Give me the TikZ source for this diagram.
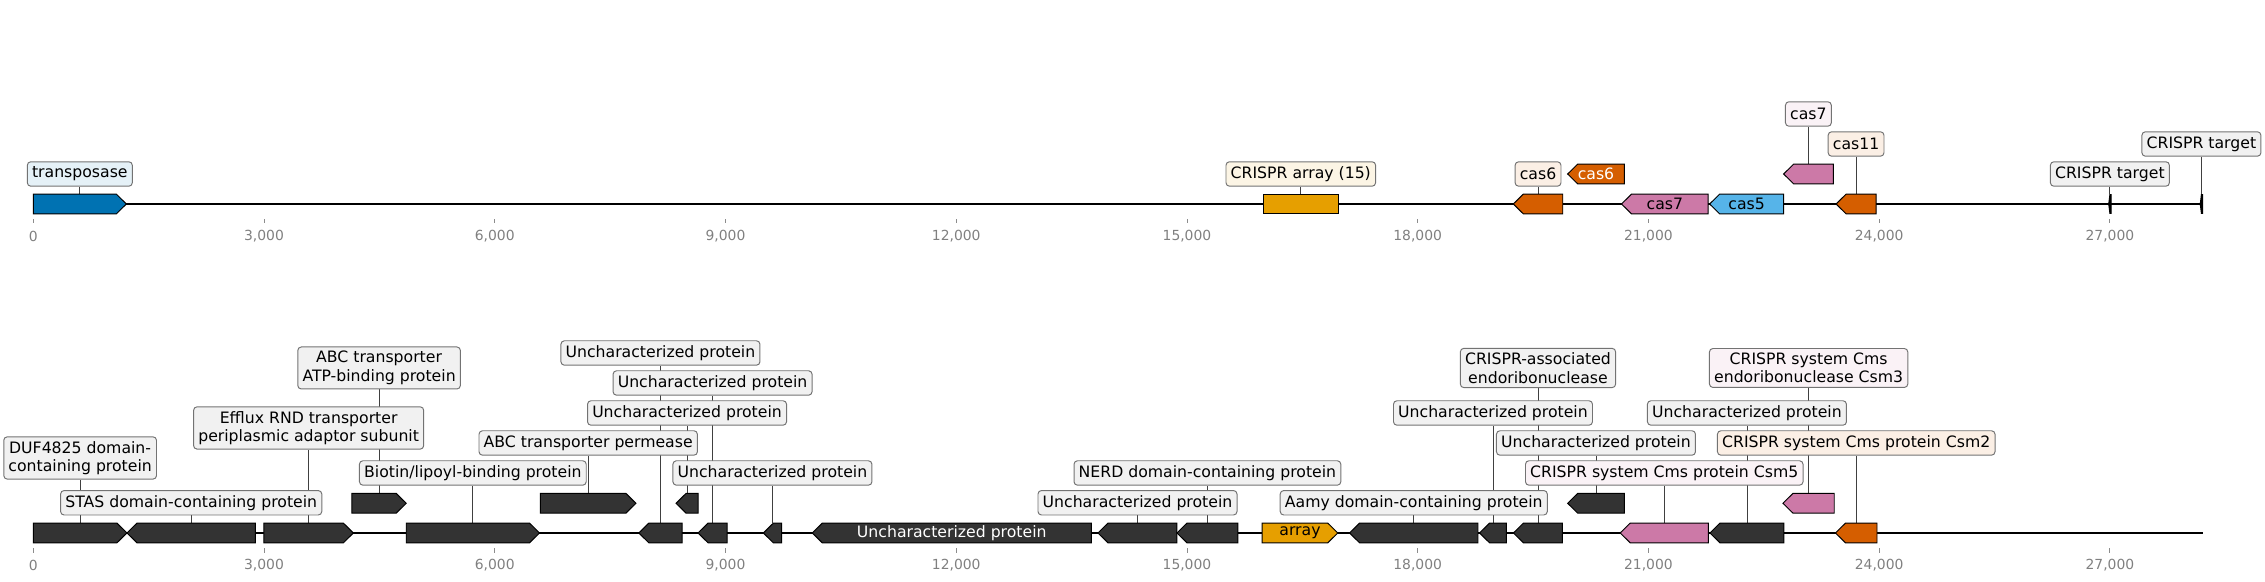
\documentclass[tikz,border=0pt]{standalone}
\usepackage{fontspec}
\setmainfont{DejaVu Sans}
\usepackage{tikz}

\pgfdeclarelayer{bg}
\pgfsetlayers{bg,main}

\definecolor{dblue}{HTML}{0072B2}
\definecolor{sky}{HTML}{56B4E9}
\definecolor{gold}{HTML}{E69F00}
\definecolor{verm}{HTML}{D55E00}
\definecolor{pinkc}{HTML}{CC79A7}
\definecolor{dgray}{HTML}{333333}

% gene arrows: name, start, end (kb), centre (px), fill, text
\newcommand{\geneR}[6]{%
  \draw[gene, fill=#5] (#2,#4-9.85) -- (#3-0.13,#4-9.85) -- (#3,#4) -- (#3-0.13,#4+9.85) -- (#2,#4+9.85) -- cycle;
  \coordinate (#1) at ({(#2+#3)/2},#4-9.85);
  \node[intext] (#1t) at ({(#2+#3)/2},#4) {#6};}
\newcommand{\geneL}[6]{%
  \draw[gene, fill=#5] (#3,#4-9.85) -- (#2+0.13,#4-9.85) -- (#2,#4) -- (#2+0.13,#4+9.85) -- (#3,#4+9.85) -- cycle;
  \coordinate (#1) at ({(#2+#3)/2},#4-9.85);
  \node[intext] (#1t) at ({(#2+#3)/2},#4) {#6};}

\begin{document}
\begin{tikzpicture}[x=55.38pt, y=-0.72pt,
  trk/.style={line width=1.6pt},
  gene/.style={draw=black, line width=0.7pt},
  lbl/.style={draw=black!55, line width=0.7pt, rounded corners=2.5pt, inner xsep=3.4pt, inner ysep=3.1pt,
    minimum height=17.6pt, align=center, font=\fontsize{11.3}{13.3}\selectfont},
  conn/.style={line width=0.6pt, black!75},
  intext/.style={inner sep=0pt, font=\fontsize{11.3}{13.3}\selectfont},
  tickmk/.style={black!45, line width=0.6pt},
  ticklab/.style={inner sep=0pt, text=black!50, font=\fontsize{10}{11}\selectfont}]
\useasboundingbox (-0.433,0) rectangle (29.017,582);

% axes
\coordinate (ta) at (0,204);
\coordinate (tb) at (28.21,204);
\coordinate (ba) at (0,533);
\coordinate (bb) at (28.21,533);
\draw[trk] (ta) -- (tb);
\draw[trk] (ba) -- (bb);
\foreach \k/\lab in {0/0,3/{3,000},6/{6,000},9/{9,000},12/{12,000},15/{15,000},18/{18,000},21/{21,000},24/{24,000},27/{27,000}} {
  \draw[tickmk] (\k,219.2) -- (\k,223.4);
  \node[ticklab] (tt\k) at (\k,236) {\lab};
  \draw[tickmk] (\k,548.5) -- (\k,552.7);
  \node[ticklab] (bt\k) at (\k,565) {\lab};
}

% top track
\geneR{tp}{0}{1.21}{204}{dblue}{}
\draw[gene, fill=gold] (15.99,194.15) rectangle (16.97,213.85);
\coordinate (ar) at (16.48,194.15);
\geneL{c6a}{19.243}{19.886}{204}{verm}{}
\geneL{c6b}{19.95}{20.686}{174}{verm}{\textcolor{white}{cas6}}
\geneL{c7a}{20.65}{21.777}{204}{pinkc}{cas7}
\geneL{c5}{21.796}{22.758}{204}{sky}{cas5}
\geneL{c7b}{22.758}{23.405}{174}{pinkc}{}
\geneL{c11}{23.44}{23.96}{204}{verm}{}
\draw[gene, fill=black] (27.015,194.5) -- (27.015,213.5) -- (27.0,213.5) -- (26.985,204) -- (27.0,194.5) -- cycle;
\coordinate (tg1) at (27.0,194.5);
\draw[gene, fill=black] (28.205,194.5) -- (28.205,213.5) -- (28.19,213.5) -- (28.175,204) -- (28.19,194.5) -- cycle;
\coordinate (tg2) at (28.19,194.5);

\node[lbl, fill=dblue!10] (ltp) at (0.605,174) {transposase};
\node[lbl, fill=gold!10] (lar) at (16.48,174) {CRISPR array (15)};
\node[lbl, fill=verm!10] (lc6) at (19.565,174) {cas6};
\node[lbl, fill=pinkc!10] (lc7) at (23.08,114) {cas7};
\node[lbl, fill=verm!10] (lc11) at (23.70,144) {cas11};
\node[lbl, fill=dgray!7] (ltg1) at (27.0,174) {CRISPR target};
\node[lbl, fill=dgray!7] (ltg2) at (28.19,144) {CRISPR target};

% bottom track
\geneR{g1}{0}{1.218}{533}{dgray}{}
\geneL{g2}{1.218}{2.888}{533}{dgray}{}
\geneR{g3}{2.999}{4.162}{533}{dgray}{}
\geneR{g4}{4.143}{4.849}{503.3}{dgray}{}
\geneR{g5}{4.849}{6.582}{533}{dgray}{}
\geneR{g6}{6.593}{7.836}{503.3}{dgray}{}
\geneL{g7}{7.873}{8.435}{533}{dgray}{}
\geneL{g8}{8.357}{8.643}{503.3}{dgray}{}
\geneL{g9}{8.643}{9.02}{533}{dgray}{}
\geneL{g10}{9.492}{9.729}{533}{dgray}{}
\geneL{g11}{10.128}{13.756}{533}{dgray}{\textcolor{white}{Uncharacterized protein}}
\geneL{g12}{13.843}{14.87}{533}{dgray}{}
\geneL{g13}{14.87}{15.661}{533}{dgray}{}
\geneR{g14}{15.978}{16.961}{533}{gold}{array}
\geneL{g15}{17.114}{18.784}{533}{dgray}{}
\geneL{g16}{18.804}{19.154}{533}{dgray}{}
\geneL{g17}{19.245}{19.882}{533}{dgray}{}
\geneL{g18}{19.95}{20.686}{503.3}{dgray}{}
\geneL{g19}{20.633}{21.779}{533}{pinkc}{}
\geneL{g20}{21.8}{22.762}{533}{dgray}{}
\geneL{g21}{22.749}{23.416}{503.3}{pinkc}{}
\geneL{g22}{23.432}{23.972}{533}{verm}{}

\node[lbl, fill=dgray!7] (l1) at (0.609,458) {DUF4825 domain-\\containing protein};
\node[lbl, fill=dgray!7] (l2) at (2.053,502.8) {STAS domain-containing protein};
\node[lbl, fill=dgray!7] (l3) at (3.58,428) {Efflux RND transporter\\periplasmic adaptor subunit};
\node[lbl, fill=dgray!7] (l4) at (4.496,368) {ABC transporter\\ATP-binding protein};
\node[lbl, fill=dgray!7] (l5) at (5.715,473) {Biotin/lipoyl-binding protein};
\node[lbl, fill=dgray!7] (l6) at (7.215,443) {ABC transporter permease};
\node[lbl, fill=dgray!7] (l7) at (8.154,353) {Uncharacterized protein};
\node[lbl, fill=dgray!7] (l8) at (8.5,413) {Uncharacterized protein};
\node[lbl, fill=dgray!7] (l9) at (8.832,383) {Uncharacterized protein};
\node[lbl, fill=dgray!7] (l10) at (9.61,473) {Uncharacterized protein};
\node[lbl, fill=dgray!7] (l12) at (14.357,502.8) {Uncharacterized protein};
\node[lbl, fill=dgray!7] (l13) at (15.266,473) {NERD domain-containing protein};
\node[lbl, fill=dgray!7] (l15) at (17.949,502.8) {Aamy domain-containing protein};
\node[lbl, fill=dgray!7] (l16) at (18.979,413) {Uncharacterized protein};
\node[lbl, fill=dgray!7] (l17) at (19.564,368) {CRISPR-associated\\endoribonuclease};
\node[lbl, fill=dgray!7] (l18) at (20.318,443) {Uncharacterized protein};
\node[lbl, fill=pinkc!10] (l19) at (21.206,473) {CRISPR system Cms protein Csm5};
\node[lbl, fill=dgray!7] (l20) at (22.281,413) {Uncharacterized protein};
\node[lbl, fill=pinkc!10] (l21) at (23.083,368) {CRISPR system Cms\\endoribonuclease Csm3};
\node[lbl, fill=verm!10] (l22) at (23.702,443) {CRISPR system Cms protein Csm2};

% label lines behind the boxes
\begin{pgfonlayer}{bg}
\foreach \g/\l in {tp/ltp,ar/lar,c6a/lc6,c7b/lc7,c11/lc11,tg1/ltg1,tg2/ltg2,
  g1/l1,g2/l2,g3/l3,g4/l4,g5/l5,g6/l6,g7/l7,g8/l8,g9/l9,g10/l10,g12/l12,g13/l13,
  g15/l15,g16/l16,g17/l17,g18/l18,g19/l19,g20/l20,g21/l21,g22/l22}
  \draw[conn] (\g) -- (\g |- \l.south);
\end{pgfonlayer}
\end{tikzpicture}
\end{document}
